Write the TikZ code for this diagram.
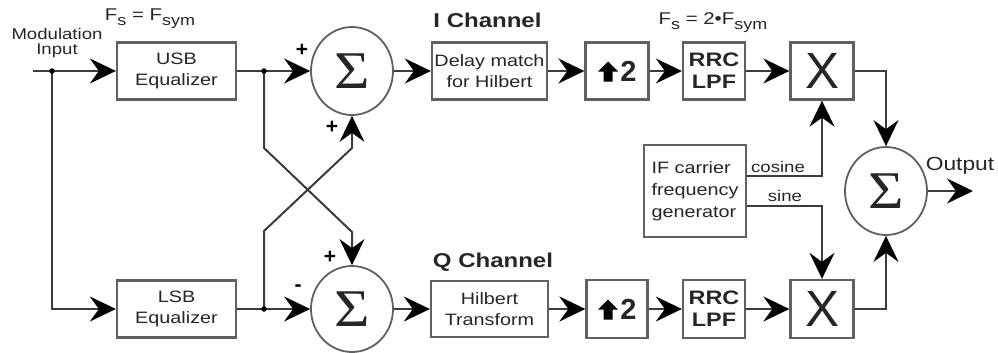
\documentclass[tikz,border=0pt]{standalone}
\usepackage{fontspec}
\setmainfont{Liberation Sans}[FakeStretch=1.2]
\newfontfamily\plainsans{Liberation Sans}
\newfontfamily\serifsig{Liberation Serif}[FakeStretch=1.15]
\usetikzlibrary{arrows.meta,shapes.geometric}
\definecolor{ln}{HTML}{3C3C3C}
\definecolor{bx}{HTML}{606060}
\definecolor{tx}{HTML}{262626}
\newcommand{\myfs}[2]{\fontsize{#1bp}{#2bp}\selectfont}
\tikzset{
  blk/.style={draw=bx, line width=2.3bp, fill=white, inner sep=0pt, align=center, text=tx, font={\myfs{16.5}{21}}},
  sumc/.style={draw=bx, ellipse, line width=1.8bp, fill=white, minimum width=82bp, minimum height=88bp, inner sep=0pt, text=tx, font={\serifsig\myfs{53}{53}}},
  flow/.style={draw=ln, line width=2bp, -{Stealth[length=26bp,width=25bp,inset=9bp,color=black]}},
  jdot/.style={circle, fill=black, inner sep=0pt, minimum size=5.5bp},
  lbl/.style={text=tx, inner sep=0pt, font={\myfs{16}{16}}},
  ttl/.style={text=tx, inner sep=0pt, font={\bfseries\myfs{20}{20}}},
  sgn/.style={text=black, inner sep=0pt, font={\plainsans\bfseries\myfs{21}{21}}},
  mulbox/.style={blk, font={\plainsans\myfs{51}{51}}},
  rrcbox/.style={blk, font={\bfseries\myfs{19.5}{22}}},
}
\begin{document}
\begin{tikzpicture}[x=1bp,y=-1bp]
\useasboundingbox (0,0) rectangle (998,352);

% blocks
\node[blk, minimum width=119bp, minimum height=57bp] (usb) at (176.5,71) {USB\\Equalizer};
\node[blk, minimum width=119bp, minimum height=57bp] (lsb) at (176.5,309) {LSB\\Equalizer};
\node[sumc] (sumT) at (352,71) {Σ};
\node[sumc, minimum height=86bp] (sumB) at (352,309) {Σ};
\node[blk, minimum width=115bp, minimum height=57bp] (delay) at (489.5,71) {Delay match\\for Hilbert};
\node[blk, minimum width=117bp, minimum height=56bp] (hilb) at (489.5,309) {Hilbert\\Transform};
\node[blk, minimum width=63bp, minimum height=57bp] (upT) at (617,71) {};
\node[blk, minimum width=61bp, minimum height=58bp] (upB) at (617,309) {};
\node[rrcbox, minimum width=62bp, minimum height=57bp] (rrcT) at (714,71) {RRC\\LPF};
\node[rrcbox, minimum width=62bp, minimum height=58bp] (rrcB) at (714,309) {RRC\\LPF};
\node[mulbox, minimum width=63bp, minimum height=57bp] (mulT) at (822,71) {X};
\node[mulbox, minimum width=63bp, minimum height=58bp] (mulB) at (822,309) {X};
\node[blk, align=left, minimum width=102bp, minimum height=92bp, font={\myfs{16.5}{22}}] (ifgen) at (695,191) {IF carrier\\frequency\\generator};
\node[sumc] (sumO) at (886,191) {Σ};

% up-sampling arrows and digits
\foreach \b in {upT,upB}{
  \fill[black, shift={(\b.center)}] (-9,-9.5) -- (1,0.5) -- (-4.5,0.5) -- (-4.5,10.5) -- (-13.5,10.5) -- (-13.5,0.5) -- (-19,0.5) -- cycle;
  \node[text=tx, inner sep=0pt, font={\plainsans\bfseries\myfs{29}{29}}] at ([xshift=11.5bp]\b.center) {2};
}

% coordinates
\coordinate (in) at (33,71);
\coordinate (j0) at (52,71);
\coordinate (j1) at (264,71);
\coordinate (j2) at (264,309);
\coordinate (c1) at (264,148);
\coordinate (c2) at (352,232);
\coordinate (c3) at (264,231);
\coordinate (c4) at (352,148);
\coordinate (out) at (973,191);

% connectors
\draw[flow] (in) -- (usb.west);
\draw[flow] (j0) |- (lsb.west);
\draw[flow] (usb.east) -- (sumT.west);
\draw[flow] (lsb.east) -- (sumB.west);
\draw[flow] (j1) -- (c1) -- (c2) -- (sumB.north);
\draw[flow] (j2) -- (c3) -- (c4) -- (sumT.south);
\draw[flow] (sumT.east) -- (delay.west);
\draw[flow] (delay.east) -- (upT.west);
\draw[flow] (upT.east) -- (rrcT.west);
\draw[flow] (rrcT.east) -- (mulT.west);
\draw[flow] (sumB.east) -- (hilb.west);
\draw[flow] (hilb.east) -- (upB.west);
\draw[flow] (upB.east) -- (rrcB.west);
\draw[flow] (rrcB.east) -- (mulB.west);
\draw[flow] ([yshift=15bp]ifgen.east) -| (mulT.south);
\draw[flow] ([yshift=-15bp]ifgen.east) -| (mulB.north);
\draw[flow] (mulT.east) -| (sumO.north);
\draw[flow] (mulB.east) -| (sumO.south);
\draw[flow] (sumO.east) -- (out);

\node[jdot] (d0) at (j0) {};
\node[jdot] (d1) at (j1) {};
\node[jdot] (d2) at (j2) {};

% labels
\node[lbl, align=center, font={\myfs{15.5}{15}}] (modin) at (57,43) {Modulation\\Input};
\node[lbl, font={\myfs{17}{17}}] (fs1) at (150,19) {F\raisebox{-5bp}{\myfs{15}{15}s} = F\raisebox{-5bp}{\myfs{15}{15}sym}};
\node[lbl, font={\myfs{17}{17}}] (fs2) at (713,23) {F\raisebox{-5bp}{\myfs{15}{15}s} = 2•F\raisebox{-5bp}{\myfs{15}{15}sym}};
\node[ttl] (ich) at (487.5,20) {I Channel};
\node[ttl] (qch) at (493,262) {Q Channel};
\node[sgn] (p1) at (302,50) {+};
\node[sgn] (p2) at (332,127) {+};
\node[sgn] (p3) at (330,257) {+};
\node[sgn] (m1) at (298,288) {-};
\node[lbl, font={\myfs{15.5}{15.5}}] (cos) at (778,167) {cosine};
\node[lbl, font={\myfs{15.5}{15.5}}] (sin) at (785,196) {sine};
\node[lbl, font={\myfs{19}{19}}] (outl) at (960,166) {Output};
\end{tikzpicture}
\end{document}
